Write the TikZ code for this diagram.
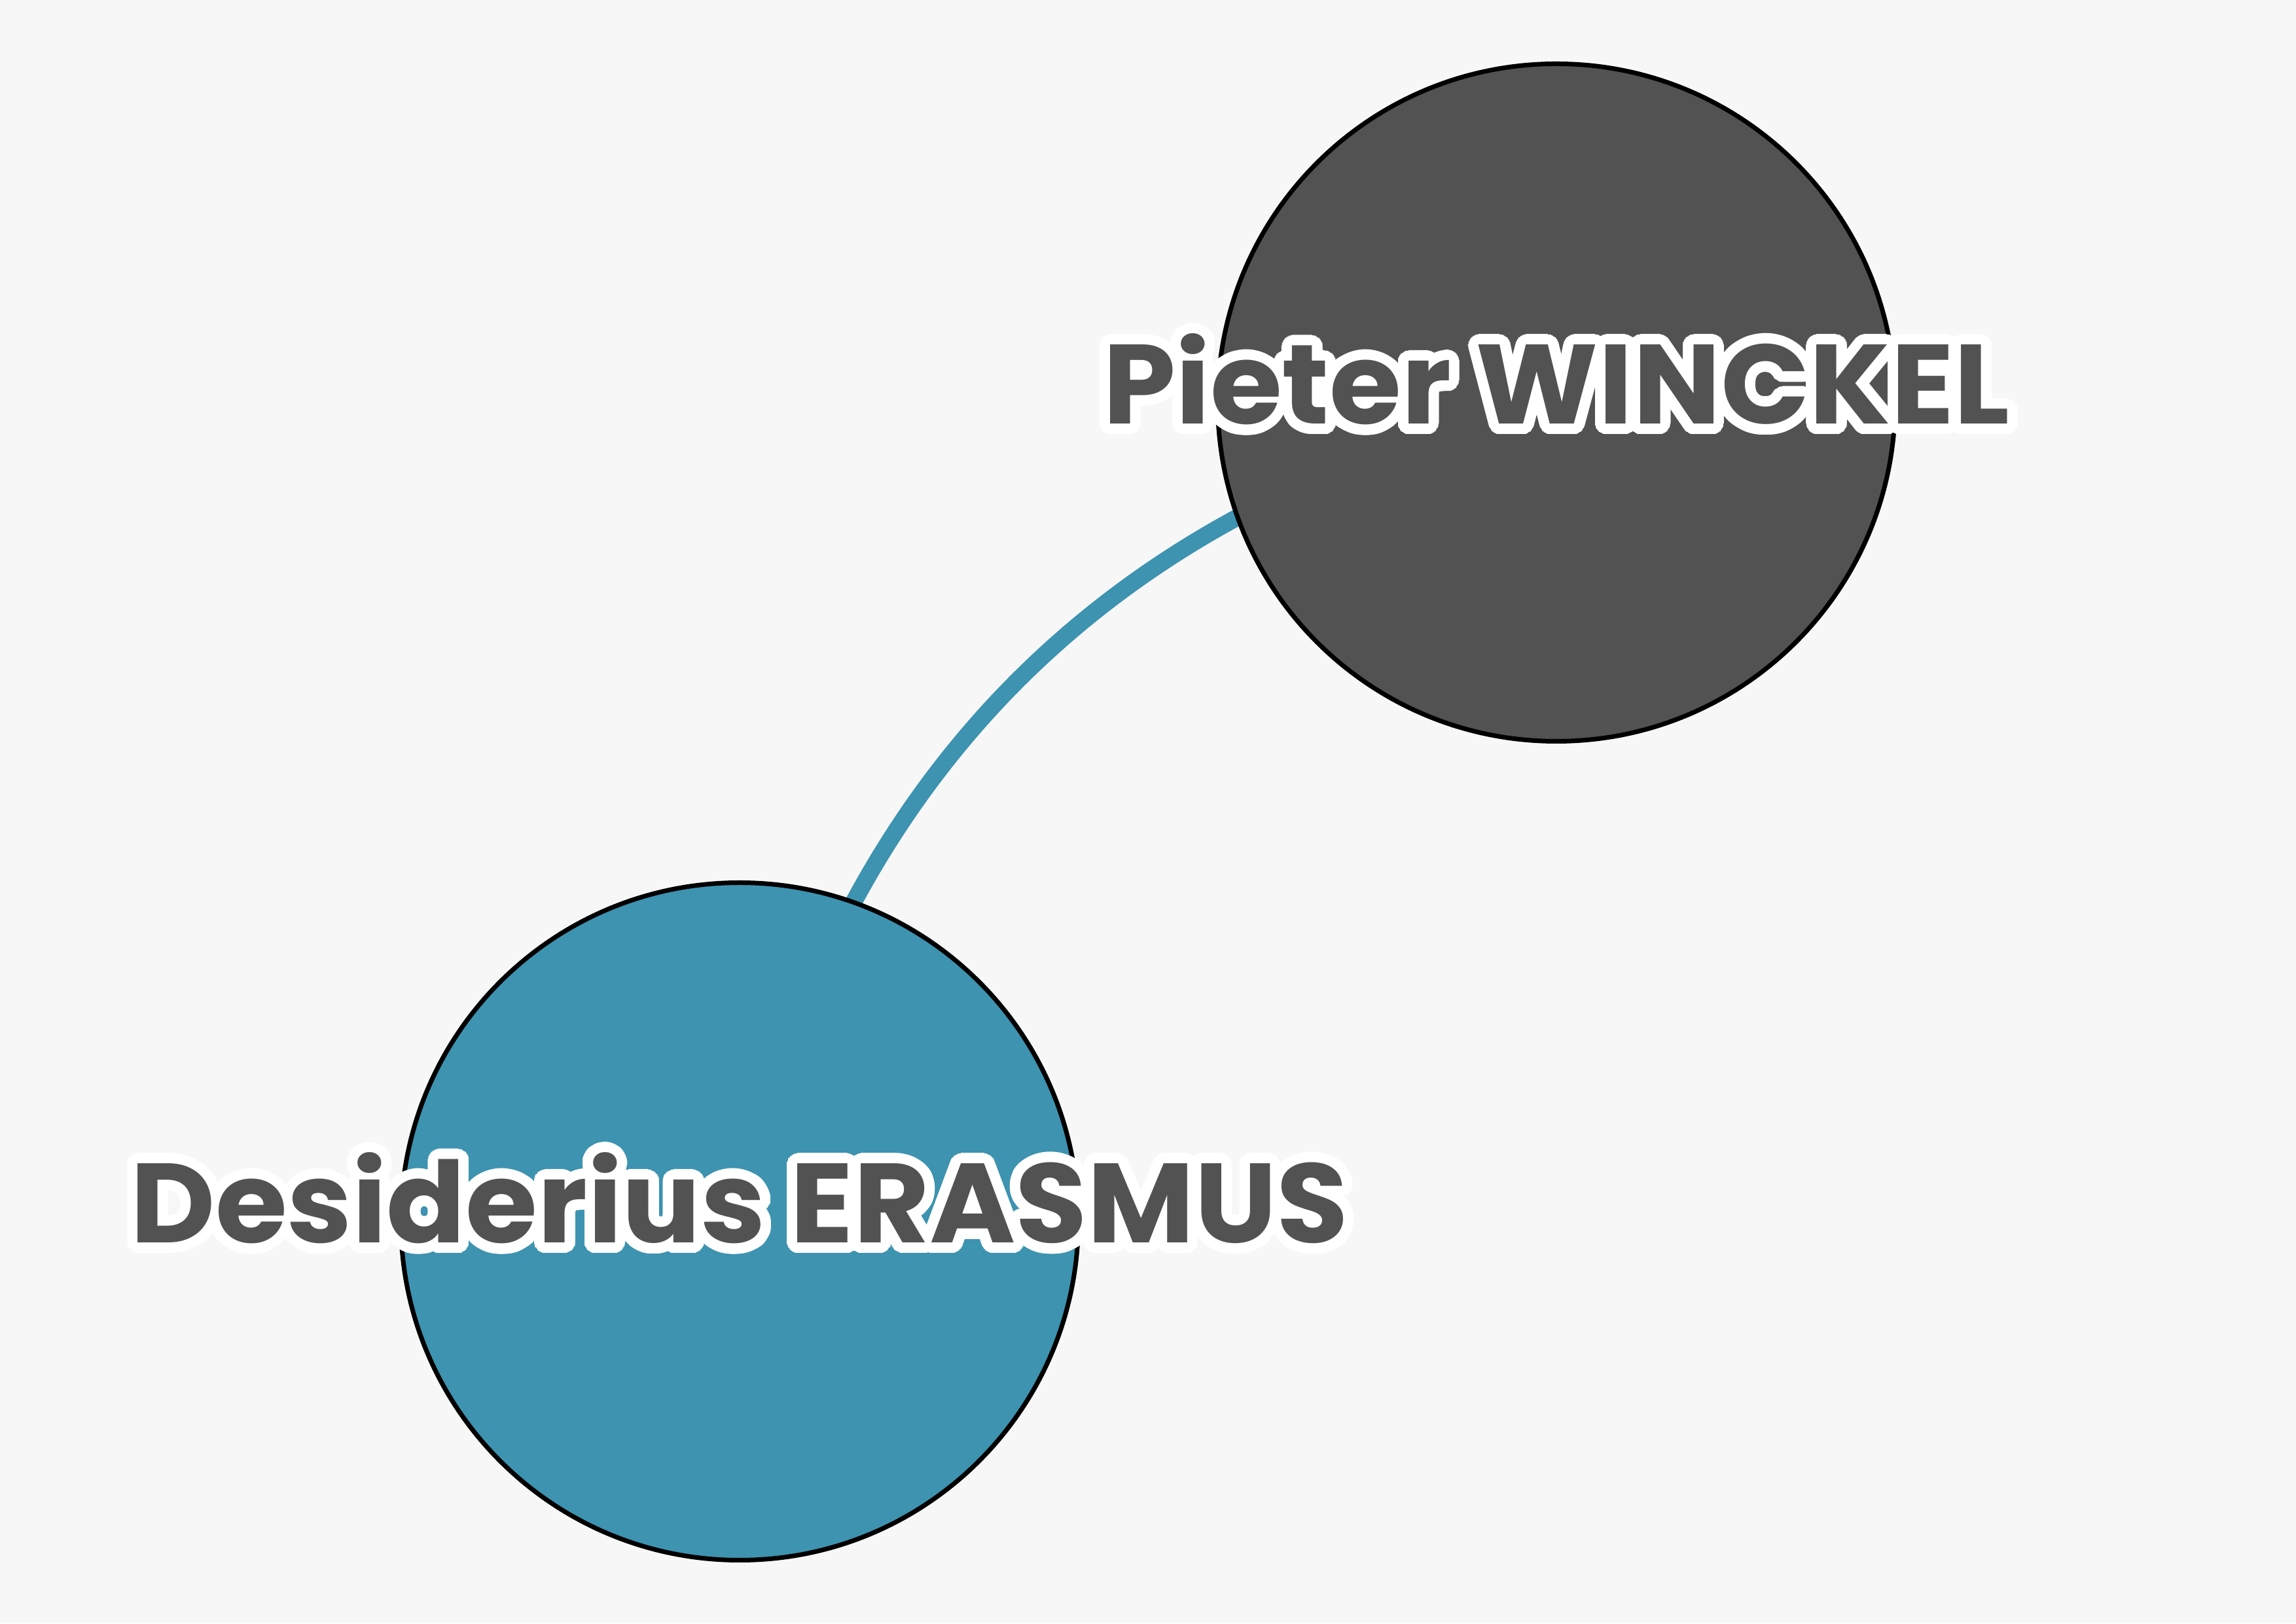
\documentclass[tikz,border=0pt]{standalone}
\usepackage{fontspec}
\usepackage{contour}
\newfontfamily\labfont{Poppins}[FakeStretch=1.035]
\contourlength{0.16cm}
\contournumber{48}
\usetikzlibrary{backgrounds}
\definecolor{bgc}{HTML}{F7F7F7}
\definecolor{darkc}{HTML}{525252}
\definecolor{tealc}{HTML}{3D93B0}
\tikzset{
  person/.style={circle, draw=black, line width=0.07cm, minimum size=10.35cm, inner sep=0pt},
  link/.style={draw=tealc, line width=0.26cm},
  lab/.style={anchor=base, inner sep=0pt, text=darkc, font=\labfont\bfseries\fontsize{49}{49}\selectfont}
}
\begin{document}
\begin{tikzpicture}
\useasboundingbox (0,0) rectangle (35.08,24.80);
\node[person, fill=darkc] (w) at (23.78,18.65) {};
\node[person, fill=tealc] (e) at (11.30,6.14) {};
\begin{pgfonlayer}{background}
\fill[bgc] (0,0) rectangle (35.08,24.80);
\draw[link] (e.center) to[bend left=33] (w.center);
\end{pgfonlayer}
\node[lab] (wl) at (23.78,18.32) {\contour{white}{Pieter WINCKEL}};
\node[lab] (el) at (11.30,5.81) {\contour{white}{Desiderius ERASMUS}};
\end{tikzpicture}
\end{document}
